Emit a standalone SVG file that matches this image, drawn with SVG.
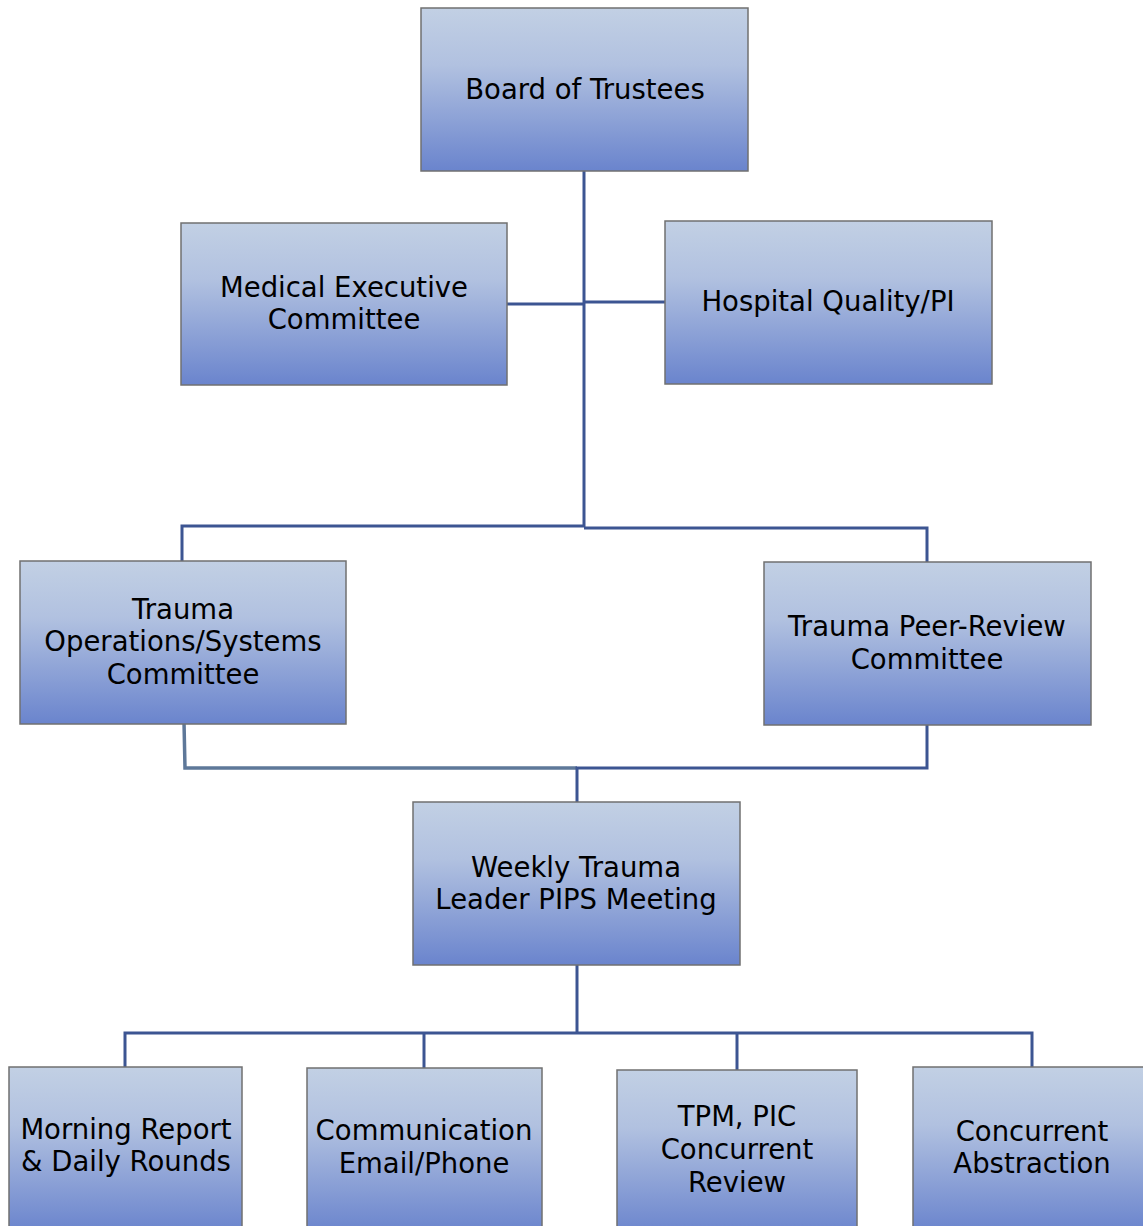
<svg xmlns="http://www.w3.org/2000/svg" width="1143" height="1226" viewBox="0 0 1143 1226">
<defs>
<linearGradient id="g" x1="0" y1="0" x2="0" y2="1">
<stop offset="0" stop-color="#c2d0e4"/>
<stop offset="0.35" stop-color="#b1c1e0"/>
<stop offset="1" stop-color="#6a84cd"/>
</linearGradient>
</defs>
<style>
.box{fill:url(#g);stroke:#707070;stroke-width:1.5}
.t{font-family:"DejaVu Sans","Liberation Sans",sans-serif;font-size:27.5px;fill:#000;text-anchor:middle}
.c{fill:none;stroke:#3c5592;stroke-width:3}
.c2{fill:none;stroke:#5e7899;stroke-width:3.5}
</style>
<rect width="1143" height="1226" fill="#fff"/>
<g id="connectors">
<path class="c" d="M584 171V527"/>
<path class="c" d="M507 304H584"/>
<path class="c" d="M584 302H665"/>
<path class="c" d="M182 561V526H584"/>
<path class="c" d="M584 528H927V562"/>
<path class="c2" d="M184 722L185 768H577"/>
<path class="c" d="M927 725V768H577V802"/>
<path class="c" d="M577 965V1033"/>
<path class="c" d="M125 1067V1033H1032V1067"/>
<path class="c" d="M424 1033V1068"/>
<path class="c" d="M737 1033V1070"/>
</g>
<g id="board"><rect class="box" x="421" y="8" width="327" height="163"/><text class="t" x="585" y="99">Board of Trustees</text></g>
<g id="medical"><rect class="box" x="181" y="223" width="326" height="162"/><text class="t" x="344" y="297">Medical Executive</text><text class="t" x="344" y="329">Committee</text></g>
<g id="hospital"><rect class="box" x="665" y="221" width="327" height="163"/><text class="t" x="828" y="311">Hospital Quality/PI</text></g>
<g id="traumaops"><rect class="box" x="20" y="561" width="326" height="163"/><text class="t" x="183" y="619">Trauma</text><text class="t" x="183" y="651">Operations/Systems</text><text class="t" x="183" y="684">Committee</text></g>
<g id="peer"><rect class="box" x="764" y="562" width="327" height="163"/><text class="t" x="927" y="636">Trauma Peer-Review</text><text class="t" x="927" y="669">Committee</text></g>
<g id="weekly"><rect class="box" x="413" y="802" width="327" height="163"/><text class="t" x="576" y="877">Weekly Trauma</text><text class="t" x="576" y="909">Leader PIPS Meeting</text></g>
<g id="morning"><rect class="box" x="9" y="1067" width="233" height="165"/><text class="t" x="126" y="1139">Morning Report</text><text class="t" x="126" y="1171">&amp; Daily Rounds</text></g>
<g id="communication"><rect class="box" x="307" y="1068" width="235" height="165"/><text class="t" x="424" y="1140">Communication</text><text class="t" x="424" y="1173">Email/Phone</text></g>
<g id="tpm"><rect class="box" x="617" y="1070" width="240" height="165"/><text class="t" x="737" y="1126">TPM, PIC</text><text class="t" x="737" y="1159">Concurrent</text><text class="t" x="737" y="1192">Review</text></g>
<g id="abstraction"><rect class="box" x="913" y="1067" width="235" height="165"/><text class="t" x="1032" y="1141">Concurrent</text><text class="t" x="1032" y="1173">Abstraction</text></g>
</svg>
